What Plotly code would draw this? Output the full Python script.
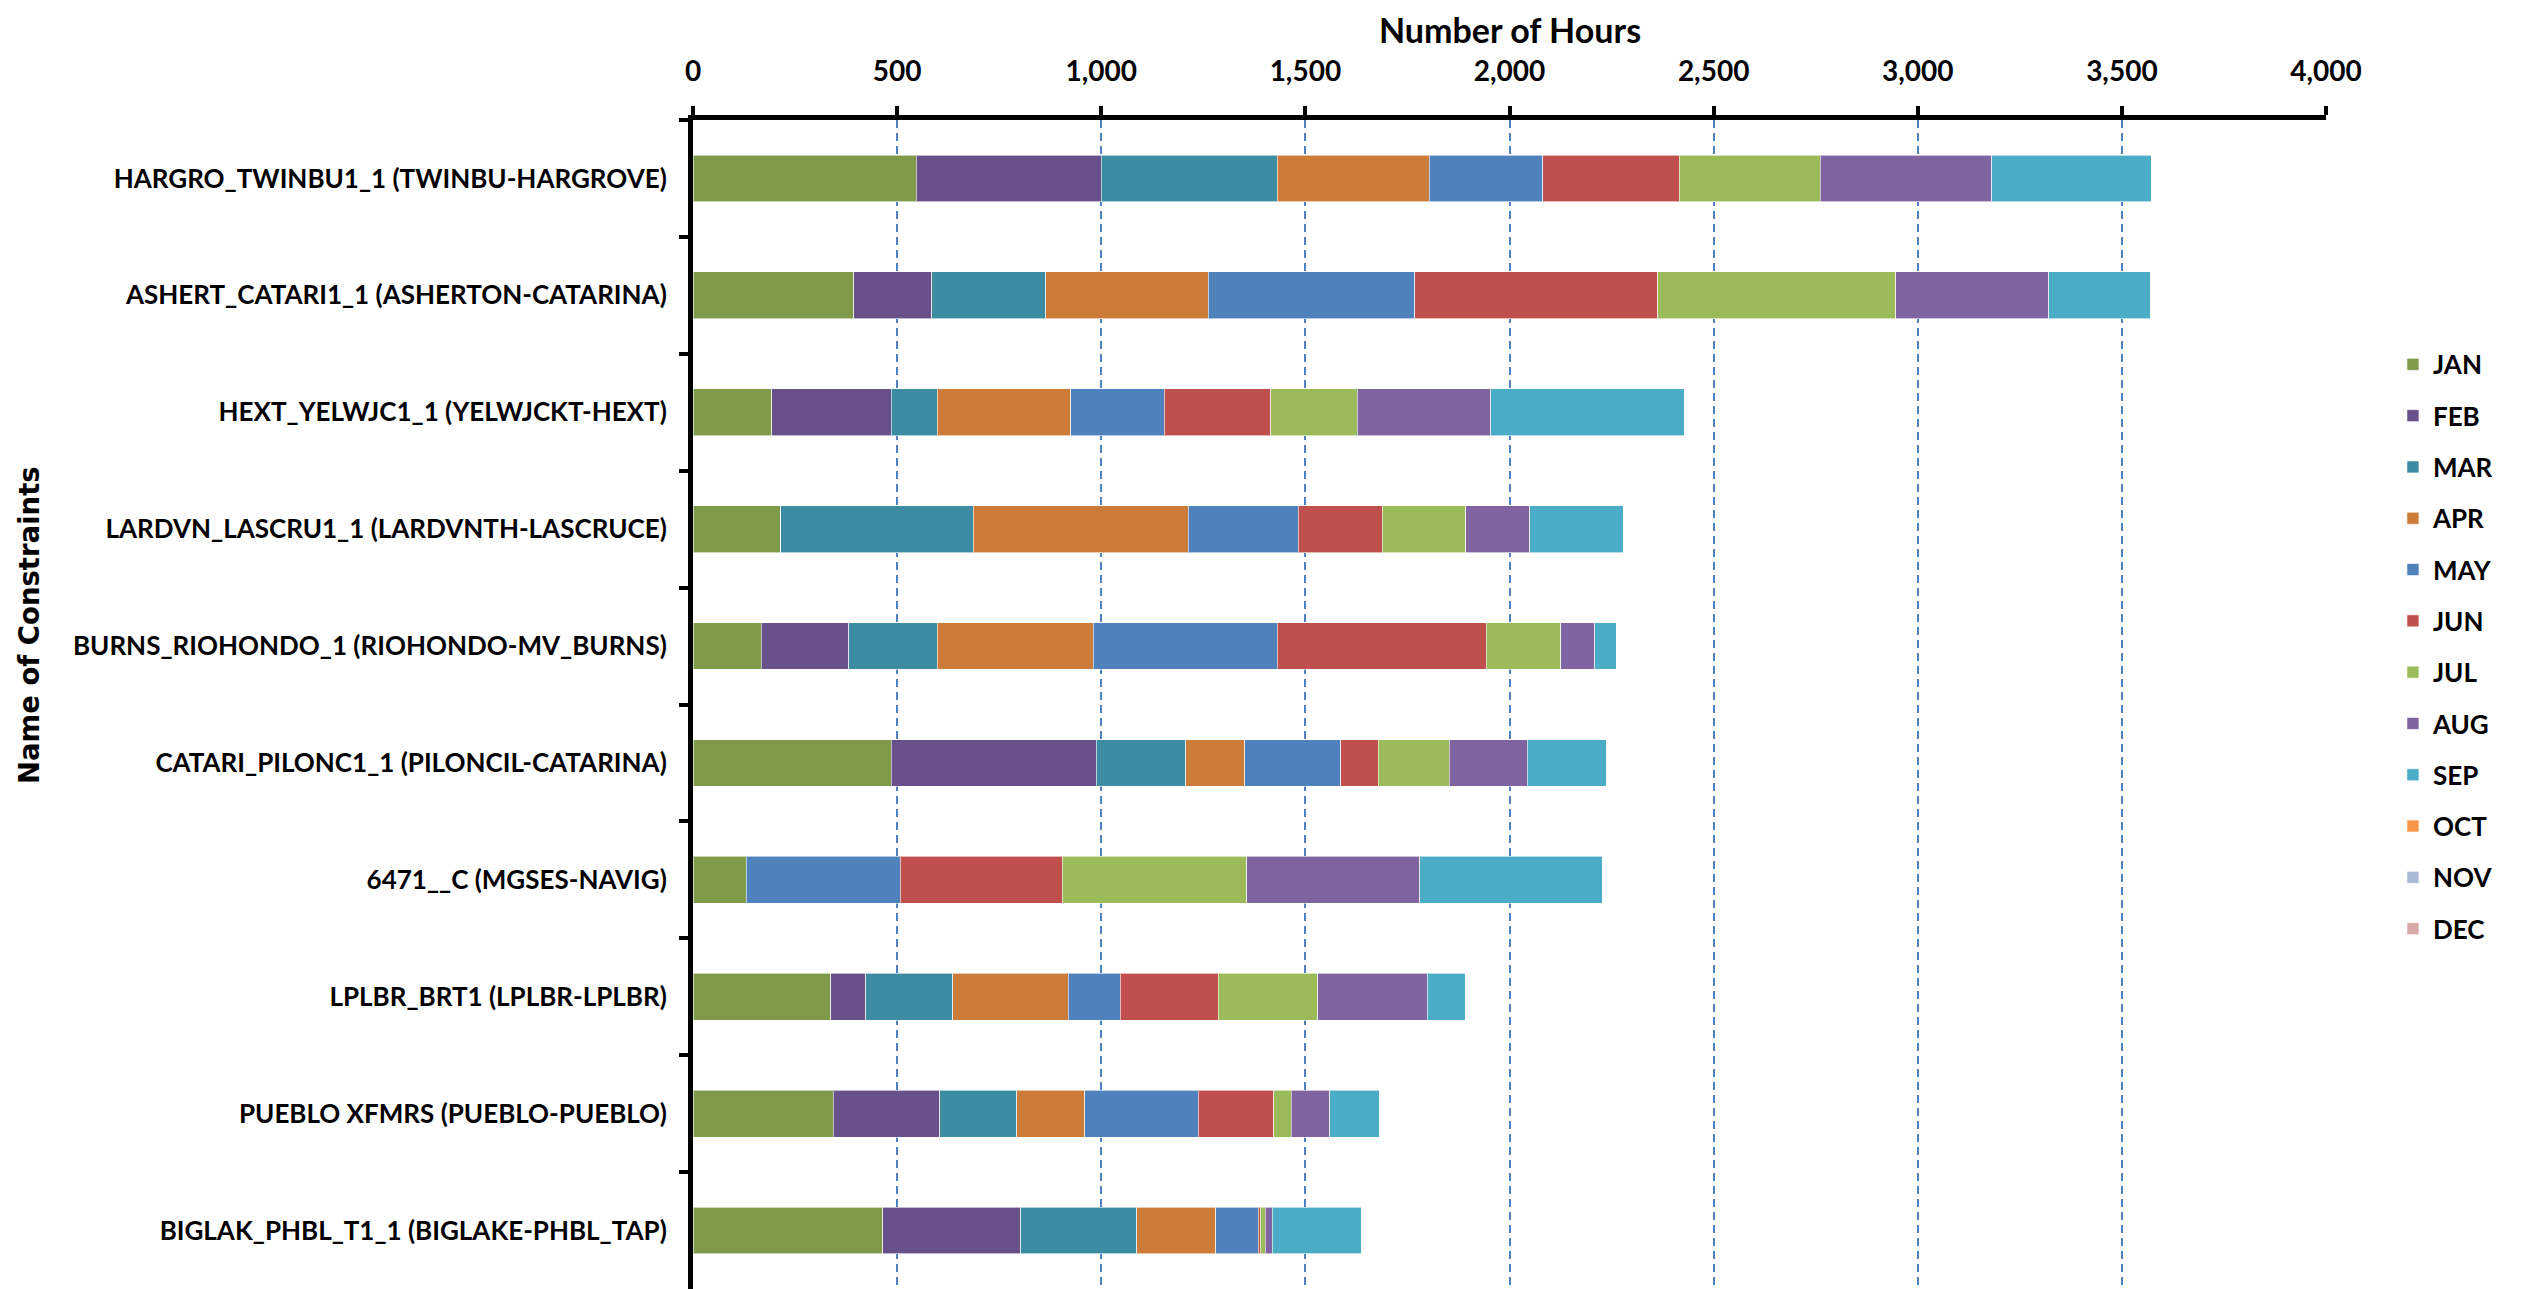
import plotly.graph_objects as go

constraints = [
    "HARGRO_TWINBU1_1 (TWINBU-HARGROVE)",
    "ASHERT_CATARI1_1 (ASHERTON-CATARINA)",
    "HEXT_YELWJC1_1 (YELWJCKT-HEXT)",
    "LARDVN_LASCRU1_1 (LARDVNTH-LASCRUCE)",
    "BURNS_RIOHONDO_1 (RIOHONDO-MV_BURNS)",
    "CATARI_PILONC1_1 (PILONCIL-CATARINA)",
    "6471__C (MGSES-NAVIG)",
    "LPLBR_BRT1 (LPLBR-LPLBR)",
    "PUEBLO XFMRS (PUEBLO-PUEBLO)",
    "BIGLAK_PHBL_T1_1 (BIGLAKE-PHBL_TAP)",
]

months = ["JAN", "FEB", "MAR", "APR", "MAY", "JUN",
          "JUL", "AUG", "SEP", "OCT", "NOV", "DEC"]

jan = [547, 394, 193, 215, 167, 486, 130, 337, 343, 465]
feb = [453, 191, 293, 0, 215, 502, 0, 86, 261, 338]
mar = [431, 279, 112, 472, 216, 219, 0, 213, 189, 284]
apr = [373, 398, 327, 526, 382, 145, 0, 283, 166, 193]
may = [278, 506, 229, 269, 451, 235, 378, 128, 279, 104]
jun = [334, 595, 261, 206, 512, 92, 396, 240, 185, 5]
jul = [345, 583, 212, 205, 183, 174, 452, 243, 43, 13]
aug = [420, 375, 327, 157, 83, 191, 424, 268, 94, 17]
sep = [391, 250, 475, 230, 52, 194, 448, 93, 121, 218]
oct_ = [0] * 10
nov = [0] * 10
dec = [0] * 10

hours = [jan, feb, mar, apr, may, jun, jul, aug, sep, oct_, nov, dec]

colors = ["#7F9A48", "#68518A", "#3C8CA3", "#CC7B38", "#4F81BD", "#C0504D",
          "#9BBB59", "#8064A2", "#4BACC6", "#F79646", "#AAB9D6", "#D9A9A8"]

FONT = "Lato, DejaVu Sans Condensed, sans-serif"

fig = go.Figure()
for month, vals, col in zip(months, hours, colors):
    fig.add_trace(go.Bar(
        y=constraints,
        x=vals,
        orientation='h',
        name=month,
        legendgroup=month,
        marker=dict(color=col, line=dict(color='rgba(255,255,255,0.6)', width=1)),
    ))

# page body has an 8px margin, so the figure is 8px smaller each way
fig.update_layout(
    template='none',
    width=2514,
    height=1281,
    barmode='stack',
    bargap=0.6,
    plot_bgcolor='white',
    paper_bgcolor='white',
    margin=dict(l=685, r=196, t=112, b=0, autoexpand=False),
    font=dict(family=FONT, size=26, color='black', weight='bold'),
    xaxis=dict(
        side='top',
        range=[0, 4000],
        automargin=False,
        tickvals=[0, 500, 1000, 1500, 2000, 2500, 3000, 3500, 4000],
        tickformat=',d',
        showgrid=True,
        gridcolor='#4F81BD',
        gridwidth=1.5,
        griddash='8px,5px',
        zeroline=False,
        showline=True,
        linecolor='black',
        linewidth=5,
        ticks='outside',
        ticklen=9,
        tickwidth=4,
        tickcolor='black',
        ticklabelstandoff=14,
        tickfont=dict(family=FONT, size=28, weight='bold'),
    ),
    yaxis=dict(
        autorange='reversed',
        automargin=False,
        showgrid=False,
        zeroline=False,
        showline=True,
        linecolor='black',
        linewidth=5,
        ticks='outside',
        tickson='boundaries',
        ticklen=9,
        tickwidth=4,
        tickcolor='black',
        ticklabelstandoff=16,
        tickfont=dict(family=FONT, size=26, weight='bold'),
    ),
    legend=dict(
        x=1.041,
        xanchor='left',
        y=0.811,
        yanchor='top',
        tracegroupgap=14.5,
        bgcolor='rgba(0,0,0,0)',
        font=dict(family=FONT, size=26, weight='bold'),
    ),
    annotations=[
        dict(text='Number of Hours', xref='paper', yref='paper',
             x=0.5, y=1.0770, xanchor='center', yanchor='middle',
             showarrow=False, font=dict(family=FONT, size=34, weight='bold')),
        dict(text='Name of Constraints', xref='paper', yref='paper',
             x=-0.4066, y=0.568, xanchor='center', yanchor='middle', textangle=-90,
             showarrow=False, font=dict(family='DejaVu Sans', size=27.5, weight='bold')),
    ],
)

fig.write_html("out.html")
